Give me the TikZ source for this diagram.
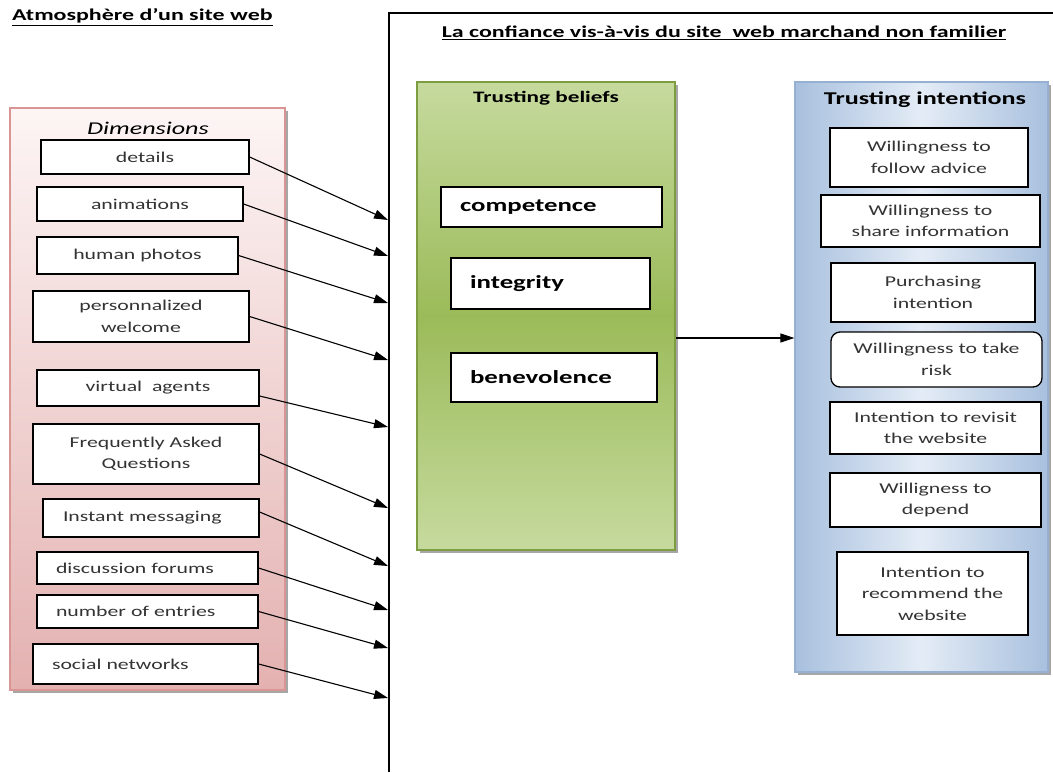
\documentclass[tikz,border=0pt]{standalone}
\usepackage{fontspec}
\setmainfont{Carlito}[FakeStretch=1.45]
\usetikzlibrary{arrows.meta,shadows,calc}
\definecolor{pinkb}{HTML}{D99594}
\definecolor{pinktop}{HTML}{FDF5F5}
\definecolor{pinkbot}{HTML}{E3B1B0}
\definecolor{grnb}{HTML}{7E9D40}
\definecolor{grnlt}{HTML}{C6DA9E}
\definecolor{grnmid}{HTML}{9BBB59}
\definecolor{blub}{HTML}{95B0D0}
\definecolor{bluside}{HTML}{A8C0DE}
\definecolor{blumid}{HTML}{E4ECF6}
\tikzset{
  bx/.style={draw=black, fill=white, line width=1.3pt, inner sep=0pt, align=center,
    font=\fontsize{15}{21.5}\selectfont, text=black!80},
  lbx/.style={bx, align=left},
  gbx/.style={draw=black, fill=white, line width=1.3pt, inner sep=0pt, align=left,
    font=\bfseries\fontsize{18.5}{22}\selectfont},
  arr/.style={line width=1.1pt, -{Triangle[length=14pt,width=9pt]}},
  shd/.style={drop shadow={shadow xshift=3pt, shadow yshift=-3pt, fill=black, opacity=0.35}},
  ttl/.style={inner sep=0pt, font=\bfseries\fontsize{16.5}{19}\selectfont}
}
\begin{document}
\begin{tikzpicture}[x=1pt,y=-1pt]
\useasboundingbox (0,0) rectangle (1053,772);
% outer frame
\draw[line width=1.4pt] (389,772) -- (389,13) -- (1053,13);
% titles
\node[ttl, anchor=west] (t1) at (12,17) {\underline{Atmosphère d’un site web}};
\node[ttl] (t2) at (724,33) {\underline{La confiance vis-à-vis du site\ \ web marchand non familier}};
% pink container
\node[shd, draw=pinkb, line width=1.8pt, top color=pinktop, bottom color=pinkbot,
  minimum width=275pt, minimum height=582pt, inner sep=0pt] (dimbox) at (147.5,399) {};
\node[inner sep=0pt, font=\itshape\fontsize{18}{21}\selectfont] (dimt) at (148,128) {Dimensions};
% left boxes
\node[bx, minimum width=208pt, minimum height=34pt] (det) at (145,157) {details};
\node[bx, minimum width=206pt, minimum height=34pt] (ani) at (140,204) {animations};
\node[bx, minimum width=201pt, minimum height=37pt] (hum) at (137.5,255.5) {human photos};
\node[bx, minimum width=216pt, minimum height=51pt] (per) at (141,316.5) {personnalized\\welcome};
\node[bx, minimum width=222pt, minimum height=36pt] (vir) at (148,388) {virtual\ \ agents};
\node[bx, minimum width=226pt, minimum height=60pt] (faq) at (146,454) {Frequently Asked\\Questions};
\node[lbx, minimum width=216pt, minimum height=38pt, inner xsep=20pt, text width=176pt] (ins) at (151,518) {Instant messaging};
\node[lbx, minimum width=221pt, minimum height=32pt, inner xsep=19pt, text width=183pt] (dis) at (147.5,568) {discussion forums};
\node[lbx, minimum width=221pt, minimum height=33pt, inner xsep=19pt, text width=183pt] (num) at (147.5,611.5) {number of entries};
\node[lbx, minimum width=225pt, minimum height=40pt, inner xsep=19pt, text width=187pt] (soc) at (145.5,664) {social networks};
% arrow targets on frame
\coordinate (a1) at (388,220);
\coordinate (a2) at (388,256);
\coordinate (a3) at (388,303);
\coordinate (a4) at (388,360);
\coordinate (a5) at (388,427);
\coordinate (a6) at (388,508);
\coordinate (a7) at (388,566);
\coordinate (a8) at (388,610);
\coordinate (a9) at (388,648);
\coordinate (a10) at (388,698);
\draw[arr] (det.east) -- (a1);
\draw[arr] (ani.east) -- (a2);
\draw[arr] (hum.east) -- (a3);
\draw[arr] (per.east) -- (a4);
\draw[arr] ([yshift=-8pt]vir.east) -- (a5);
\draw[arr] (faq.east) -- (a6);
\draw[arr] ([yshift=6pt]ins.east) -- (a7);
\draw[arr] (dis.east) -- (a8);
\draw[arr] (num.east) -- (a9);
\draw[arr] (soc.east) -- (a10);
% green container
\node[shd, draw=grnb, line width=1.2pt, top color=grnlt, bottom color=grnlt, middle color=grnmid,
  minimum width=258pt, minimum height=468pt, inner sep=0pt] (green) at (546,316) {};
\node[inner sep=0pt, font=\bfseries\fontsize{16}{19}\selectfont] (gt) at (546,98) {Trusting beliefs};
\node[gbx, minimum width=221pt, minimum height=40pt, inner xsep=19pt, text width=183pt] (com) at (551.5,207) {competence};
\node[gbx, minimum width=199pt, minimum height=51pt, inner xsep=19pt, text width=161pt] (int) at (550.5,283.5) {integrity};
\node[gbx, minimum width=206pt, minimum height=49pt, inner xsep=19pt, text width=168pt] (ben) at (554,377.5) {benevolence};
% blue container
\node[shd, draw=blub, line width=1.2pt, left color=bluside, right color=bluside, middle color=blumid,
  minimum width=253pt, minimum height=590pt, inner sep=0pt] (blue) at (921.5,377) {};
\node[inner sep=0pt, font=\bfseries\fontsize{18}{21}\selectfont] (bt) at (925,100) {Trusting intentions};
\node[bx, minimum width=198pt, minimum height=59pt] (adv) at (929,157.5) {Willingness to\\follow advice};
\node[bx, minimum width=219pt, minimum height=52pt] (sha) at (930.5,221) {Willingness to\\share information};
\node[bx, minimum width=204pt, minimum height=59pt] (pur) at (933,292.5) {Purchasing\\intention};
\node[bx, rounded corners=9pt, minimum width=211pt, minimum height=55pt] (ris) at (936.5,359.5) {Willingness to take\\risk};
\node[bx, minimum width=211pt, minimum height=52pt] (rev) at (935.5,428) {Intention to revisit\\the website};
\node[bx, minimum width=211pt, minimum height=54pt] (dep) at (935.5,500) {Willigness to\\depend};
\node[bx, minimum width=191pt, minimum height=83pt] (rec) at (932.5,593.5) {Intention to\\recommend the\\website};
% main arrow
\coordinate (m) at (600,338);
\draw[arr] (green.east |- m) -- (blue.west |- m);
\end{tikzpicture}
\end{document}
